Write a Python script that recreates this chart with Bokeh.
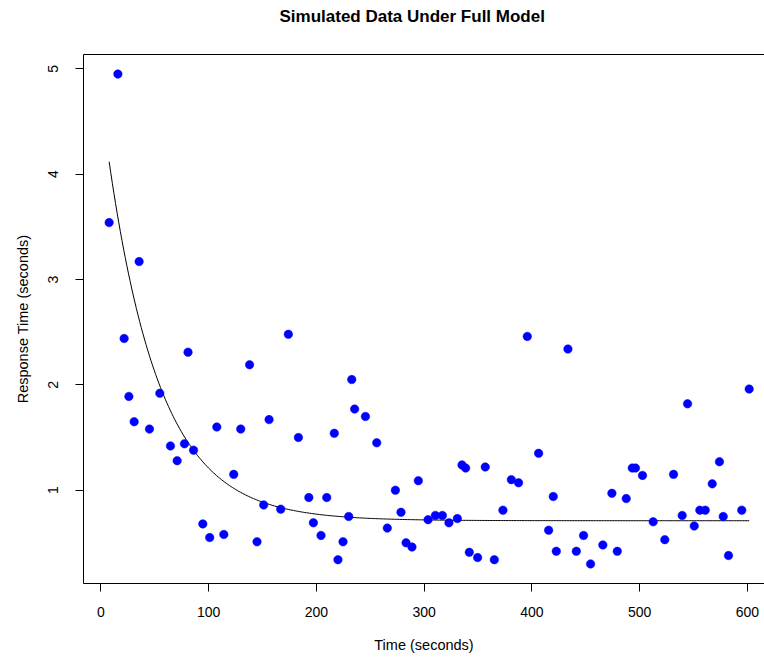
import numpy as np
from bokeh.plotting import figure
from bokeh.models import Range1d, LinearAxis, FixedTicker, ColumnDataSource, Title
from bokeh.embed import file_html
from bokeh.resources import INLINE

# Data
time_s = [7.7, 15.8, 21.6, 26.0, 30.9, 35.5, 45.1, 54.7, 64.6, 70.8,
          77.6, 80.9, 86.0, 94.6, 101.0, 107.6, 114.1, 123.3, 129.8, 138.0,
          144.9, 151.1, 156.1, 166.9, 174.0, 183.3, 193.0, 197.2, 204.3, 209.6,
          216.6, 220.0, 224.7, 230.0, 232.8, 235.5, 245.5, 256.0, 265.8, 273.3,
          278.5, 283.2, 288.7, 294.6, 303.6, 310.4, 316.9, 323.0, 330.8, 335.1,
          338.5, 341.9, 349.6, 356.7, 365.1, 373.1, 380.9, 387.6, 395.7, 406.2,
          415.5, 419.8, 422.6, 433.4, 441.2, 447.9, 454.4, 465.8, 474.2, 479.2,
          487.5, 493.1, 496.1, 502.6, 512.5, 523.3, 531.4, 539.4, 544.4, 550.6,
          555.8, 560.8, 567.3, 574.0, 577.5, 582.4, 594.7, 601.6]
response_s = [3.54, 4.95, 2.44, 1.89, 1.65, 3.17, 1.58, 1.92, 1.42, 1.28,
              1.44, 2.31, 1.38, 0.68, 0.55, 1.60, 0.58, 1.15, 1.58, 2.19,
              0.51, 0.86, 1.67, 0.82, 2.48, 1.50, 0.93, 0.69, 0.57, 0.93,
              1.54, 0.34, 0.51, 0.75, 2.05, 1.77, 1.70, 1.45, 0.64, 1.00,
              0.79, 0.50, 0.46, 1.09, 0.72, 0.76, 0.76, 0.69, 0.73, 1.24,
              1.21, 0.41, 0.36, 1.22, 0.34, 0.81, 1.10, 1.07, 2.46, 1.35,
              0.62, 0.94, 0.42, 2.34, 0.42, 0.57, 0.30, 0.48, 0.97, 0.42,
              0.92, 1.21, 1.21, 1.14, 0.70, 0.53, 1.15, 0.76, 1.82, 0.66,
              0.81, 0.81, 1.06, 1.27, 0.75, 0.38, 0.81, 1.96]

x_ticks = [0, 100, 200, 300, 400, 500, 600]
y_ticks = [1, 2, 3, 4, 5]

# fitted model curve parameters
fit_asymptote = 0.71
fit_amplitude = 4.0
fit_rate = 0.0208

curve_x = np.linspace(min(time_s), max(time_s), 400)
curve_y = fit_asymptote + fit_amplitude * np.exp(-fit_rate * curve_x)

FONT = "Liberation Sans"

p = figure(width=764, height=657, output_backend="svg", toolbar_location=None,
           x_range=Range1d(-16.1, 615.8), y_range=Range1d(0.114, 5.136),
           min_border_left=83, min_border_right=0, min_border_top=54,
           min_border_bottom=74)
p.grid.visible = False
p.outline_line_color = None
p.background_fill_color = "white"
p.border_fill_color = "white"

p.xaxis.ticker = FixedTicker(ticks=x_ticks)
p.yaxis.ticker = FixedTicker(ticks=y_ticks)
p.xaxis.axis_label = "Time (seconds)"
p.yaxis.axis_label = "Response Time (seconds)"
p.yaxis.major_label_orientation = "vertical"
for ax in (p.xaxis, p.yaxis):
    ax.axis_line_color = "black"
    ax.axis_line_width = 1
    ax.major_tick_out = 8
    ax.major_tick_in = 0
    ax.major_tick_line_color = "black"
    ax.minor_tick_line_color = None
    ax.major_label_text_font = FONT
    ax.major_label_text_font_size = "14px"
    ax.major_label_text_color = "black"
    ax.axis_label_text_font = FONT
    ax.axis_label_text_font_size = "14.5px"
    ax.axis_label_text_font_style = "normal"
    ax.axis_label_text_color = "black"
p.xaxis.major_label_standoff = 15
p.xaxis.axis_label_standoff = 17
p.yaxis.major_label_standoff = 17
p.yaxis.axis_label_standoff = 15

# top border of the box
top = LinearAxis(ticker=FixedTicker(ticks=[]), major_label_text_font_size="0px",
                 major_tick_out=0, major_tick_in=0, minor_tick_out=0, minor_tick_in=0,
                 major_label_standoff=0, axis_line_color="black", axis_line_width=1)
p.add_layout(top, "above")

# spacer between box and title
spacer = Title(text=" ", text_font=FONT, text_font_size="12px", standoff=12)
p.add_layout(spacer, "above")

main_title = Title(text="Simulated Data Under Full Model", align="left", offset=196,
                   text_font=FONT, text_font_size="17px", text_font_style="bold",
                   text_color="black", standoff=2)
p.add_layout(main_title, "above")

p.line(curve_x, curve_y, line_color="black", line_width=1)
src = ColumnDataSource(data=dict(x=time_s, y=response_s))
p.scatter("x", "y", source=src, marker="circle", size=8.5,
          fill_color="#0000FF", line_color="#0000FF", line_width=0.5)

open("out.html", "w").write(file_html(p, INLINE))
